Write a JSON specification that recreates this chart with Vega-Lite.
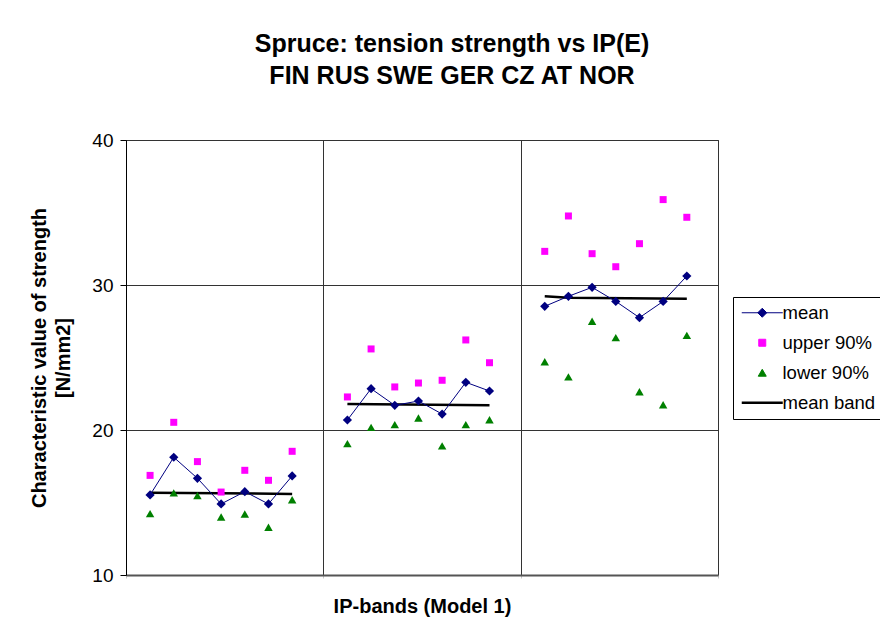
{
  "$schema": "https://vega.github.io/schema/vega-lite/v6.json",
  "autosize": "none",
  "width": 592,
  "height": 435,
  "padding": {"left": 126, "top": 140, "right": 162, "bottom": 61},
  "background": "white",
  "title": {
    "text": ["Spruce: tension strength vs IP(E)", "FIN RUS SWE GER CZ AT NOR"],
    "anchor": "middle",
    "dx": 30,
    "offset": 42,
    "fontSize": 25,
    "lineHeight": 32,
    "fontWeight": "bold",
    "font": "Liberation Sans",
    "color": "#000000"
  },
  "datasets": {
    "strength": [
      {"band": 1, "country": "FIN", "ip": 0.122, "mean": 15.52, "upper": 16.87, "lower": 14.23},
      {"band": 1, "country": "RUS", "ip": 0.242, "mean": 18.12, "upper": 20.53, "lower": 15.66},
      {"band": 1, "country": "SWE", "ip": 0.362, "mean": 16.67, "upper": 17.82, "lower": 15.47},
      {"band": 1, "country": "GER", "ip": 0.482, "mean": 14.90, "upper": 15.72, "lower": 14.00},
      {"band": 1, "country": "CZ", "ip": 0.602, "mean": 15.75, "upper": 17.22, "lower": 14.21},
      {"band": 1, "country": "AT", "ip": 0.722, "mean": 14.90, "upper": 16.53, "lower": 13.29},
      {"band": 1, "country": "NOR", "ip": 0.842, "mean": 16.83, "upper": 18.53, "lower": 15.19},
      {"band": 2, "country": "FIN", "ip": 1.122, "mean": 20.69, "upper": 22.28, "lower": 19.06},
      {"band": 2, "country": "RUS", "ip": 1.242, "mean": 22.85, "upper": 25.59, "lower": 20.18},
      {"band": 2, "country": "SWE", "ip": 1.362, "mean": 21.70, "upper": 22.97, "lower": 20.37},
      {"band": 2, "country": "GER", "ip": 1.482, "mean": 22.00, "upper": 23.24, "lower": 20.83},
      {"band": 2, "country": "CZ", "ip": 1.602, "mean": 21.10, "upper": 23.43, "lower": 18.90},
      {"band": 2, "country": "AT", "ip": 1.722, "mean": 23.29, "upper": 26.21, "lower": 20.37},
      {"band": 2, "country": "NOR", "ip": 1.842, "mean": 22.69, "upper": 24.64, "lower": 20.71},
      {"band": 3, "country": "FIN", "ip": 2.122, "mean": 28.53, "upper": 32.32, "lower": 24.71},
      {"band": 3, "country": "RUS", "ip": 2.242, "mean": 29.22, "upper": 34.76, "lower": 23.66},
      {"band": 3, "country": "SWE", "ip": 2.362, "mean": 29.84, "upper": 32.16, "lower": 27.50},
      {"band": 3, "country": "GER", "ip": 2.482, "mean": 28.87, "upper": 31.26, "lower": 26.37},
      {"band": 3, "country": "CZ", "ip": 2.602, "mean": 27.75, "upper": 32.85, "lower": 22.64},
      {"band": 3, "country": "AT", "ip": 2.722, "mean": 28.87, "upper": 35.89, "lower": 21.74},
      {"band": 3, "country": "NOR", "ip": 2.842, "mean": 30.62, "upper": 34.67, "lower": 26.53}
    ],
    "meanBand": [
      {"band": 1, "ip": 0.122, "value": 15.68},
      {"band": 1, "ip": 0.842, "value": 15.59},
      {"band": 2, "ip": 1.122, "value": 21.79},
      {"band": 2, "ip": 1.842, "value": 21.70},
      {"band": 3, "ip": 2.122, "value": 29.22},
      {"band": 3, "ip": 2.242, "value": 29.12},
      {"band": 3, "ip": 2.842, "value": 29.05}
    ]
  },
  "encoding": {
    "x": {
      "field": "ip",
      "type": "quantitative",
      "scale": {"domain": [0, 3], "nice": false, "zero": false},
      "axis": {
        "title": "IP-bands (Model 1)",
        "values": [0, 1, 2, 3],
        "labels": false,
        "ticks": true,
        "tickSize": 3,
        "tickColor": "#c8c8c8",
        "grid": true,
        "gridColor": "#333333",
        "gridWidth": 1,
        "domainColor": "#555555",
        "domainWidth": 2,
        "titleFontSize": 20,
        "titleFontWeight": "bold",
        "titlePadding": 18,
        "titleColor": "#000000"
      }
    },
    "color": {
      "scale": {
        "domain": ["mean", "upper 90%", "lower 90%", "mean band"],
        "range": ["#000080", "#FF00FF", "#008000", "#000000"]
      },
      "legend": {
        "title": null,
        "orient": "none",
        "legendX": 607,
        "legendY": 157,
        "padding": 6.5,
        "rowPadding": 11,
        "strokeColor": "#000000",
        "fillColor": "#FFFFFF",
        "labelFontSize": 18.5,
        "labelColor": "#000000",
        "labelFont": "Liberation Sans",
        "symbolSize": 100,
        "symbolStrokeWidth": 1.5,
        "symbolOffset": 13.5,
        "labelOffset": 11,
        "labelLimit": 400,
        "encode": {
          "symbols": {
            "update": {
              "shape": {"signal": "datum.value === 'mean' ? 'M-4.1,0H4.1M0,-0.9L0.9,0L0,0.9L-0.9,0Z' : datum.value === 'mean band' ? 'M-4.1,0H4.1' : datum.value === 'upper 90%' ? 'square' : 'triangle-up'"},
              "size": {"signal": "datum.value === 'upper 90%' ? 49 : datum.value === 'lower 90%' ? 64 : 100"},
              "fill": {"signal": "datum.value === 'mean' ? '#000080' : datum.value === 'upper 90%' ? '#FF00FF' : datum.value === 'lower 90%' ? '#008000' : 'transparent'"},
              "stroke": {"signal": "datum.value === 'mean' ? '#000080' : datum.value === 'mean band' ? '#000000' : 'transparent'"},
              "strokeWidth": {"signal": "datum.value === 'mean band' ? 2.5 : 1"},
              "opacity": {"value": 1}
            }
          }
        }
      }
    }
  },
  "layer": [
    {
      "data": {"name": "meanBand"},
      "mark": {"type": "line", "strokeWidth": 2.5},
      "encoding": {
        "y": {
          "field": "value",
          "type": "quantitative",
          "scale": {"domain": [10, 40], "nice": false, "zero": false},
          "axis": {
            "title": ["Characteristic value of strength", "[N/mm2]"],
            "values": [10, 20, 30, 40],
            "grid": true,
            "gridColor": "#333333",
            "gridWidth": 1,
            "domainColor": "#000000",
            "tickColor": "#000000",
            "tickSize": 6,
            "labelFontSize": 19,
            "labelColor": "#000000",
            "labelPadding": 7,
            "titleFontSize": 20,
            "titleFontWeight": "bold",
            "titleLineHeight": 24,
            "titlePadding": 18,
            "titleColor": "#000000"
          }
        },
        "detail": {"field": "band"},
        "color": {"datum": "mean band"}
      }
    },
    {
      "data": {"name": "strength"},
      "mark": {"type": "line", "strokeWidth": 1},
      "encoding": {
        "y": {"field": "mean", "type": "quantitative"},
        "detail": {"field": "band"},
        "color": {"datum": "mean"}
      }
    },
    {
      "data": {"name": "strength"},
      "mark": {"type": "point", "shape": "diamond", "filled": true, "size": 85, "opacity": 1},
      "encoding": {
        "y": {"field": "mean", "type": "quantitative"},
        "color": {"datum": "mean"}
      }
    },
    {
      "data": {"name": "strength"},
      "mark": {"type": "point", "shape": "square", "filled": true, "size": 49, "opacity": 1},
      "encoding": {
        "y": {"field": "upper", "type": "quantitative"},
        "color": {"datum": "upper 90%"}
      }
    },
    {
      "data": {"name": "strength"},
      "mark": {"type": "point", "shape": "triangle-up", "filled": true, "size": 72, "opacity": 1},
      "encoding": {
        "y": {"field": "lower", "type": "quantitative"},
        "color": {"datum": "lower 90%"}
      }
    }
  ],
  "resolve": {"scale": {"color": "shared"}},
  "config": {
    "font": "Liberation Sans",
    "view": {"stroke": "#333333", "strokeWidth": 1}
  }
}
